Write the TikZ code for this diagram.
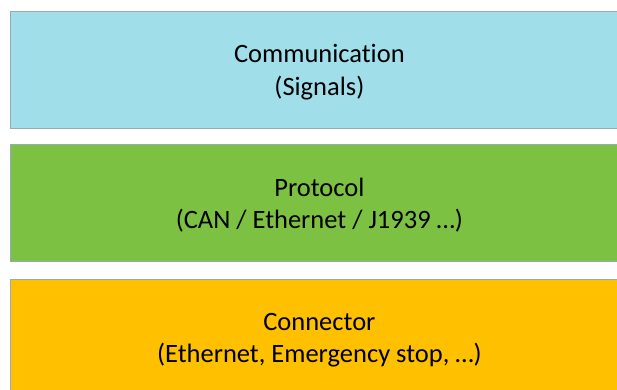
\documentclass[tikz,border=0pt]{standalone}
\usepackage{fontspec}
\setmainfont{Carlito}[Ligatures={NoCommon}]
\definecolor{commblue}{RGB}{160,222,234}
\definecolor{protgreen}{RGB}{124,193,66}
\definecolor{connorange}{RGB}{255,192,0}
\definecolor{edgegray}{RGB}{150,170,190}
\tikzset{
  layer/.style={draw=edgegray, line width=0.8pt, minimum width=619pt, minimum height=117pt,
    anchor=north west, inner sep=0pt},
  layertext/.style={align=center, yshift=-2.5pt,
    font=\fontsize{26.5pt}{32.5pt}\selectfont}
}
\begin{document}
\begin{tikzpicture}[x=1pt,y=-1pt]
\useasboundingbox (0,0) rectangle (617,389);
\clip (0,0) rectangle (617,389);

\begin{scope}
\node[layer, fill=commblue] (comm) at (9.5,11) {};
\node[layer, fill=protgreen] (prot) at (9.5,143.5) {};
\node[layer, fill=connorange] (conn) at (9.5,279) {};
\node[layertext] (commtext) at (comm.center) {Communication\\(Signals)};
\node[layertext] (prottext) at (prot.center) {Protocol\\(CAN / Ethernet / J1939 \ldots)};
\node[layertext] (conntext) at (conn.center) {Connector\\(Ethernet, Emergency stop, \ldots)};
\end{scope}

\end{tikzpicture}
\end{document}
